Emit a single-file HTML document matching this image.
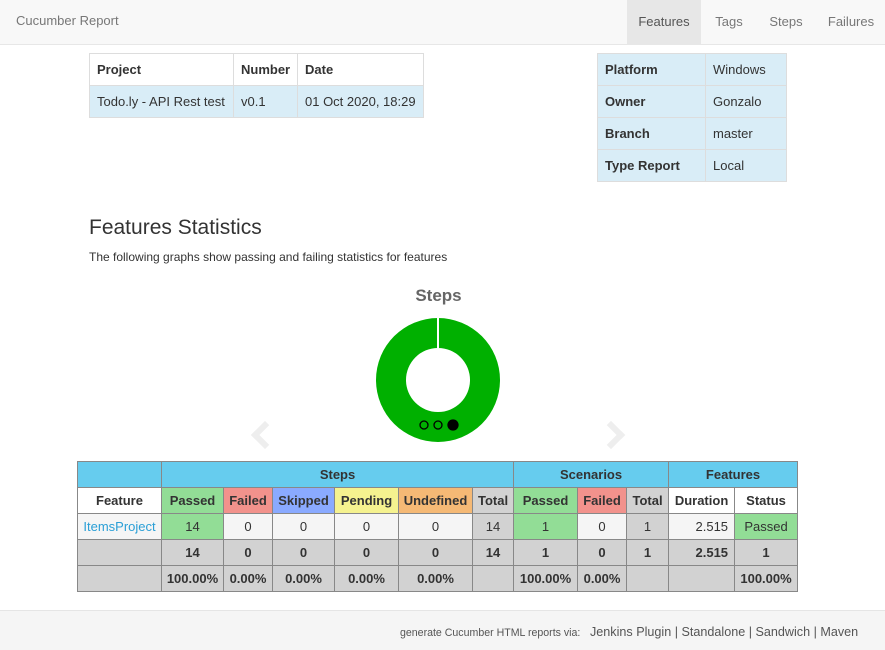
<!DOCTYPE html>
<html><head><meta charset="utf-8"><style>
*{box-sizing:border-box}
body{margin:0;width:885px;height:650px;font-family:"Liberation Sans",Arial,sans-serif;font-size:13px;color:#333;background:#fff;position:relative;overflow:hidden}
.nav{position:absolute;left:0;top:0;width:885px;height:45px;background:#f8f8f8;border-bottom:1px solid #e7e7e7}
.brand{position:absolute;left:16px;top:13px;font-size:13px;color:#777}
.tab{position:absolute;top:0;height:44px;line-height:44px;color:#777;font-size:13px;text-align:center}
table{border-collapse:collapse;position:absolute;table-layout:fixed}
.info td,.info th{border:1px solid #ddd;padding:0 7px;height:32px;text-align:left;font-size:13px;white-space:nowrap;overflow:hidden}
.info th{font-weight:bold}
.blue{background:#d9edf7}
.stats td{border:1px solid #888;height:26px;text-align:center;font-size:13px;padding:0;white-space:nowrap;overflow:hidden}
.stats .h td{font-weight:bold}
.hb{background:#66ccee}
.g{background:#92dd96}.r{background:#f2928c}.s{background:#8aaaff}.p{background:#f5f28f}.u{background:#f5b975}.t{background:#d2d2d2}.w{background:#f5f5f5}
.b td{font-weight:bold}
.footer{position:absolute;left:0;top:610px;width:885px;height:40px;background:#f5f5f5;border-top:1px solid #e5e5e5;font-size:10.6px;color:#555}
</style></head><body>
<div class="nav">
<span class="brand">Cucumber Report</span>
<span class="tab" style="left:627px;width:74px;background:#e7e7e7;color:#555">Features</span>
<span class="tab" style="left:702px;width:54px">Tags</span>
<span class="tab" style="left:756px;width:60px">Steps</span>
<span class="tab" style="left:816px;width:70px">Failures</span>
</div>
<table class="info" style="left:89px;top:53px;width:335px">
<tr><th style="width:144px">Project</th><th style="width:64px">Number</th><th>Date</th></tr>
<tr class="blue"><td>Todo.ly - API Rest test</td><td>v0.1</td><td>01 Oct 2020, 18:29</td></tr>
</table>
<table class="info blue" style="left:597px;top:53px;width:190px">
<tr><th style="width:108px">Platform</th><td>Windows</td></tr>
<tr><th>Owner</th><td>Gonzalo</td></tr>
<tr><th>Branch</th><td>master</td></tr>
<tr><th>Type Report</th><td>Local</td></tr>
</table>
<div style="position:absolute;left:89px;top:216px;font-size:21px">Features Statistics</div>
<div style="position:absolute;left:89px;top:250px;font-size:12px">The following graphs show passing and failing statistics for features</div>
<div style="position:absolute;left:0;width:877px;top:286px;text-align:center;font-size:17px;font-weight:bold;color:#666">Steps</div>
<svg id="donut" style="position:absolute;left:0;top:0" width="885" height="650"></svg>
<div style="position:absolute;left:255px;top:425px;width:20px;height:20px;border-left:6px solid #eee;border-bottom:6px solid #eee;transform:rotate(45deg)"></div>
<div style="position:absolute;left:601px;top:425px;width:20px;height:20px;border-right:6px solid #eee;border-top:6px solid #eee;transform:rotate(45deg)"></div>
<table class="stats" style="left:77px;top:461px;width:721px">
<colgroup><col style="width:84px"><col style="width:62px"><col style="width:49px"><col style="width:62px"><col style="width:64px"><col style="width:74px"><col style="width:41px"><col style="width:64px"><col style="width:49px"><col style="width:42px"><col style="width:66px"><col></colgroup>
<tr class="h"><td class="hb"></td><td class="hb" colspan="6">Steps</td><td class="hb" colspan="3">Scenarios</td><td class="hb" colspan="2">Features</td></tr>
<tr class="h"><td style="background:#fff">Feature</td><td class="g">Passed</td><td class="r">Failed</td><td class="s">Skipped</td><td class="p">Pending</td><td class="u">Undefined</td><td class="t">Total</td><td class="g">Passed</td><td class="r">Failed</td><td class="t">Total</td><td style="background:#fff">Duration</td><td style="background:#fff">Status</td></tr>
<tr><td class="w" style="color:#2a9fd6">ItemsProject</td><td class="g">14</td><td class="w">0</td><td class="w">0</td><td class="w">0</td><td class="w">0</td><td class="t">14</td><td class="g">1</td><td class="w">0</td><td class="t">1</td><td class="w" style="text-align:right;padding-right:6px">2.515</td><td class="g">Passed</td></tr>
<tr class="b t"><td></td><td>14</td><td>0</td><td>0</td><td>0</td><td>0</td><td>14</td><td>1</td><td>0</td><td>1</td><td style="text-align:right;padding-right:6px">2.515</td><td>1</td></tr>
<tr class="b t"><td></td><td>100.00%</td><td>0.00%</td><td>0.00%</td><td>0.00%</td><td>0.00%</td><td></td><td>100.00%</td><td>0.00%</td><td></td><td></td><td>100.00%</td></tr>
</table>
<div class="footer">
<span style="position:absolute;left:400px;top:16px">generate Cucumber HTML reports via:</span>
<span style="position:absolute;left:590px;top:14px;font-size:12.6px;color:#555">Jenkins Plugin | Standalone | Sandwich | Maven</span>
</div>
<script>
const labels=["Passed","Failed","Skipped","Pending","Undefined"];
const values=[14,0,0,0,0];
const colors=["#00b000","#e00000","#88aaff","#f5f28f","#f5b975"];
const NS="http://www.w3.org/2000/svg";
const svg=document.getElementById('donut');
const cx=438,cy=380,R=62,r=32;
const total=values.reduce((a,b)=>a+b,0);
function pt(a,rad){return [cx+rad*Math.sin(a),cy-rad*Math.cos(a)];}
let ang=0;
values.forEach((v,i)=>{
  if(!v)return;
  const sweep=v/total*2*Math.PI;
  const a0=ang,a1=ang+sweep;
  const parts=sweep>=2*Math.PI-1e-6?[[a0,a0+Math.PI],[a0+Math.PI,a1]]:[[a0,a1]];
  parts.forEach(([s,e])=>{
    const large=(e-s)>Math.PI?1:0;
    const p0=pt(s,R),p1=pt(e,R),q1=pt(e,r),q0=pt(s,r);
    const p=document.createElementNS(NS,'path');
    p.setAttribute('d',`M${p0}A${R},${R} 0 ${large} 1 ${p1}L${q1}A${r},${r} 0 ${large} 0 ${q0}Z`);
    p.setAttribute('fill',colors[i]);
    
    
    svg.appendChild(p);
  });
  const l=document.createElementNS(NS,'line');
  const a=pt(a0,R+1),b=pt(a0,r-1);
  l.setAttribute('x1',a[0]);l.setAttribute('y1',a[1]);l.setAttribute('x2',b[0]);l.setAttribute('y2',b[1]);
  l.setAttribute('stroke','#fff');l.setAttribute('stroke-width','2');
  
  
  svg.appendChild(l);
  ang=a1;
});
[[424,false],[438,false],[453,true]].forEach(([x,f],k)=>{
  const c=document.createElementNS(NS,'circle');
  c.setAttribute('cx',x);c.setAttribute('cy',425);c.setAttribute('r',f?5:4);
  c.setAttribute('fill',f?'#000':'none');c.setAttribute('stroke','#000');c.setAttribute('stroke-width','1.3');
  
  
  svg.appendChild(c);
});
</script>
</body></html>
